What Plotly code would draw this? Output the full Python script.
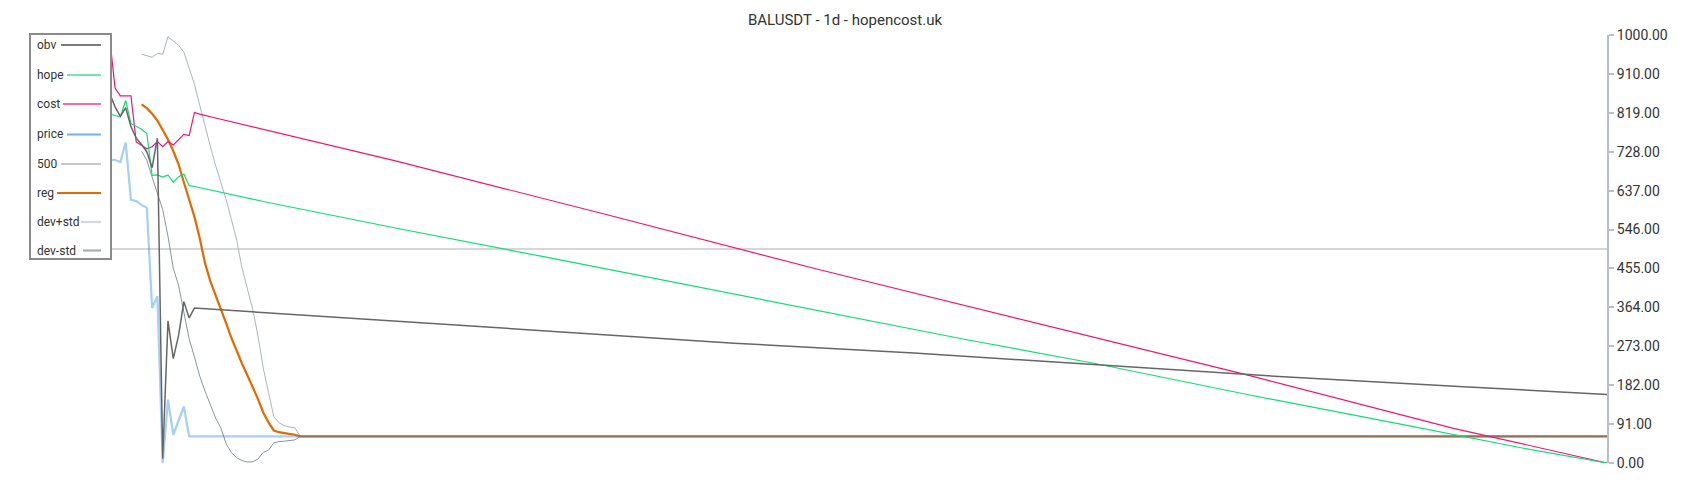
import plotly.graph_objects as go

title = "BALUSDT - 1d - hopencost.uk"

# values are normalised to 0..1000, x is the day index
# the first days are read one by one, the long tails at sparse days
obv_x = list(range(0, 23)) + [55, 90, 124, 158, 192, 227, 261, 289]
obv = [980, 1000, 950, 910, 885, 870, 862, 832, 810, 830, 786, 759, 744, 727, 690, 759,
       10, 332, 244, 298, 377, 339, 362,
       335, 307, 280, 257, 230, 202, 179, 160]

hope_x = list(range(0, 23)) + [35, 60, 88, 115, 141, 168, 192, 221, 249, 273, 289]
hope = [825, 822, 820, 818, 817, 816, 815, 812, 809, 847, 793, 787, 780, 770, 672, 673,
        668, 673, 656, 669, 675, 648, 646,
        611, 549, 482, 416, 354, 288, 233, 160, 93, 35, 0]

cost_x = list(range(0, 23)) + [23, 26, 60, 100, 140, 180, 220, 260, 289]
cost = [1000, 1000, 995, 993, 992, 991, 990, 876, 858, 858, 858, 750, 743, 734, 739, 751,
        739, 751, 743, 755, 768, 765, 819,
        815, 806, 706, 580, 452, 331, 209, 81, 0]

price_x = list(range(0, 22)) + [289]
price = [735, 740, 730, 725, 715, 711, 709, 708, 703, 749, 615, 612, 603, 596, 362, 390,
         0, 148, 66, 97, 132, 62, 62]

level_x = [0, 289]
level_500 = [500, 500]

reg_x = list(range(12, 43)) + [289]
reg = [838, 829, 816, 800, 778, 756, 729, 698, 656, 613, 575, 525, 467, 425, 393, 358,
       326, 292, 260, 232, 205, 178, 150, 118, 95, 76, 72, 70, 68, 66, 62, 62]

band_x = list(range(12, 43)) + [289]
dev_plus = [955, 951, 948, 957, 955, 996, 985, 976, 960, 925, 885, 836, 785, 740, 695, 655,
            615, 568, 520, 455, 410, 360, 298, 222, 165, 108, 94, 87, 84, 82, 62, 62]
dev_minus = [728, 708, 668, 628, 592, 530, 455, 415, 350, 290, 248, 203, 168, 138, 105, 82,
             45, 24, 12, 6, 2, 3, 9, 25, 30, 47, 50, 51, 52, 54, 62, 62]

tick_vals = [k * 1000 / 11 for k in range(12)]
tick_text = ["0.00", "91.00", "182.00", "273.00", "364.00", "455.00", "546.00",
             "637.00", "728.00", "819.00", "910.00", "1000.00"]

# name, x, y, line colour, width, legend sample colour
series = [
    ("obv", obv_x, obv, "#666666", 1.5, "#7a7a7a"),
    ("hope", hope_x, hope, "#12dc72", 1.2, "#74e6a6"),
    ("cost", cost_x, cost, "#e8177d", 1.2, "#f06cb0"),
    ("price", price_x, price, "rgba(30,136,229,0.4)", 2.2, "#6fb0ee"),
    ("500", level_x, level_500, "#c8c8c8", 1.6, "#c8c8c8"),
    ("reg", reg_x, reg, "#e26a00", 2.2, "#e26a00"),
    ("dev+std", band_x, dev_plus, "#a9b5bc", 1.0, "#d2d8dc"),
    ("dev-std", band_x, dev_minus, "#8595a0", 1.0, "#a4b0b8"),
]

# the page keeps an 8px body margin, so the figure is made 16px smaller
OFF = 8
W, H = 1700 - 2 * OFF, 500 - 2 * OFF
M_L, M_R, M_T, M_B = 0, 85, 27, 29
plot_w = W - M_L - M_R
plot_h = H - M_T - M_B


def fx(px):
    return (px - OFF - M_L) / plot_w


def fy(py):
    return (H - M_B - (py - OFF)) / plot_h


fig = go.Figure()
draw_order = ["500", "dev+std", "dev-std", "reg", "price", "cost", "hope", "obv"]
by_name = {s[0]: s for s in series}
for name in draw_order:
    _, xs, ys, col, w, _ = by_name[name]
    fig.add_trace(go.Scatter(x=xs, y=ys, mode="lines", name=name,
                             line=dict(color=col, width=w), showlegend=False,
                             hoverinfo="skip"))

# legend box drawn by hand: text first, line sample after it
shapes = [dict(type="rect", xref="paper", yref="paper",
               x0=fx(30), x1=fx(111), y0=fy(259), y1=fy(34),
               fillcolor="white", line=dict(color="#8a8a8a", width=2), layer="above")]
annotations = []
row_y = [45, 75, 104, 134.5, 164, 193, 222, 250.5]
sample_start = [61, 67, 63, 67, 61, 57, 81, 83]
for (name, _, _, _, _, scol), yy, xs0 in zip(series, row_y, sample_start):
    shapes.append(dict(type="line", xref="paper", yref="paper",
                       x0=fx(xs0), x1=fx(101), y0=fy(yy), y1=fy(yy),
                       line=dict(color=scol, width=2.2), layer="above"))
    annotations.append(dict(text=name, xref="paper", yref="paper",
                            x=fx(35), y=fy(yy), xanchor="left", yanchor="middle",
                            showarrow=False,
                            font=dict(family="Roboto", size=12, color="#333")))

fig.update_layout(
    width=W, height=H,
    margin=dict(l=M_L, r=M_R, t=M_T, b=M_B),
    paper_bgcolor="white", plot_bgcolor="white",
    title=dict(text=title, x=(845 - OFF) / W, xref="container", xanchor="center",
               y=1 - (19.5 - OFF) / H, yref="container", yanchor="middle",
               font=dict(family="Roboto", size=15, color="#333")),
    xaxis=dict(range=[-13.24, 289], visible=False),
    yaxis=dict(range=[0, 1000], side="right", showgrid=False, zeroline=False,
               showline=True, linecolor="#b3c0c7", linewidth=2,
               ticks="outside", ticklen=5, tickwidth=1.5, tickcolor="#b3c0c7",
               tickvals=tick_vals, ticktext=tick_text,
               tickfont=dict(family="Roboto", size=14, color="#333")),
    shapes=shapes,
    annotations=annotations,
)

fig.write_html("out.html")
